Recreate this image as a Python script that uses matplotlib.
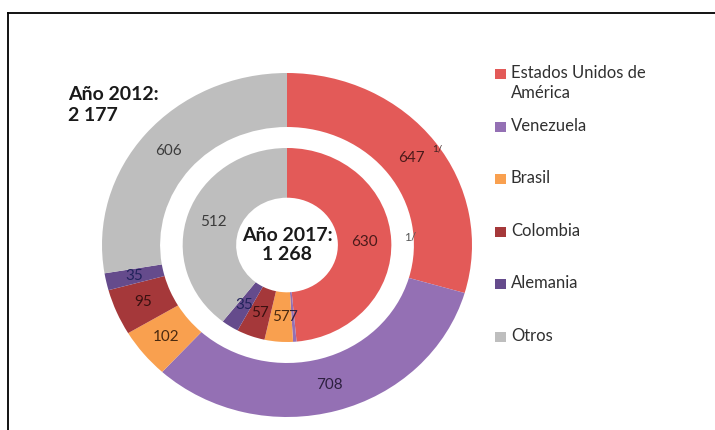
import matplotlib
matplotlib.use("Agg")
import matplotlib.pyplot as plt
from matplotlib.lines import Line2D
from matplotlib.patches import Rectangle
import numpy as np

plt.rcParams['font.family'] = ['Lato', 'DejaVu Sans']

# Categorias y valores (miles)
paises = ["Estados Unidos de\nAmérica", "Venezuela", "Brasil", "Colombia", "Alemania", "Otros"]
valores_2012 = [647, 708, 102, 95, 35, 606]
valores_2017 = [630, 7, 57, 57, 35, 512]
total_2012 = "2 177"
total_2017 = "1 268"

colores = ["#E35A58", "#9470B4", "#F9A04F", "#A5383A", "#654B8C", "#BEBEBE"]
color_etiq = ["#4A1A1A", "#2E2040", "#4A2A10", "#3A1010", "#22235C", "#3C3C3C"]

W, H = 715, 430
fig = plt.figure(figsize=(W / 100, H / 100), dpi=100)

# Ejes ligeramente estirados en horizontal
ax = fig.add_axes([102 / W, 13 / H, 370 / W, 344 / H])

R_ext, ancho_ext = 1.0, 0.314
R_int, ancho_int = 0.564, 0.289

w_ext, _ = ax.pie(valores_2012, radius=R_ext, colors=colores, startangle=90,
                  counterclock=False,
                  wedgeprops=dict(width=ancho_ext, linewidth=0))
w_int, _ = ax.pie(valores_2017, radius=R_int, colors=colores, startangle=90,
                  counterclock=False,
                  wedgeprops=dict(width=ancho_int, linewidth=0))
ax.set_aspect('auto')
ax.set_xlim(-1, 1)
ax.set_ylim(-1, 1)
ax.axis('off')


def etiquetar(wedges, valores, r):
    for w, v, c in zip(wedges, valores, color_etiq):
        ang = np.deg2rad((w.theta1 + w.theta2) / 2)
        ax.text(r * np.cos(ang), r * np.sin(ang), f"{v}", ha='center',
                va='center', fontsize=11, color=c)


etiquetar(w_ext, valores_2012, R_ext - ancho_ext / 2)
etiquetar(w_int, valores_2017, R_int - ancho_int / 2)

# Notas 1/
ax.text(0.81, 0.56, "1/", fontsize=7, color="#3A2020", ha='center', va='center')
ax.text(0.667, 0.045, "1/", fontsize=8.5, color="#555555", ha='center', va='center')

# Totales
ax.text(0, 0, f"Año 2017:\n{total_2017}", ha='center', va='center',
        fontsize=14, fontweight='bold', color="#1A1A1A", linespacing=1.15)
fig.text(68 / W, 1 - 105 / H, f"Año 2012:\n{total_2012}", ha='left', va='center',
         fontsize=14, fontweight='bold', color="#1A1A1A", linespacing=1.25)

# Leyenda
y0, paso = 74, 52.6
for i, (nombre, col) in enumerate(zip(paises, colores)):
    y = y0 + i * paso
    fig.patches.append(Rectangle((495 / W, 1 - (y + 5) / H), 11 / W, 10 / H,
                                 transform=fig.transFigure, facecolor=col,
                                 edgecolor='none'))
    fig.text(511 / W, 1 - (y - 9) / H, nombre, ha='left', va='top',
             fontsize=12, color="#303030", linespacing=1.3)

# Marco superior e izquierdo
fig.add_artist(Line2D([8 / W, 1], [1 - 13 / H, 1 - 13 / H], color='black',
                      lw=1.3, transform=fig.transFigure))
fig.add_artist(Line2D([8 / W, 8 / W], [0, 1 - 13 / H], color='black',
                      lw=1.3, transform=fig.transFigure))

fig.savefig("out.png", dpi=100)
